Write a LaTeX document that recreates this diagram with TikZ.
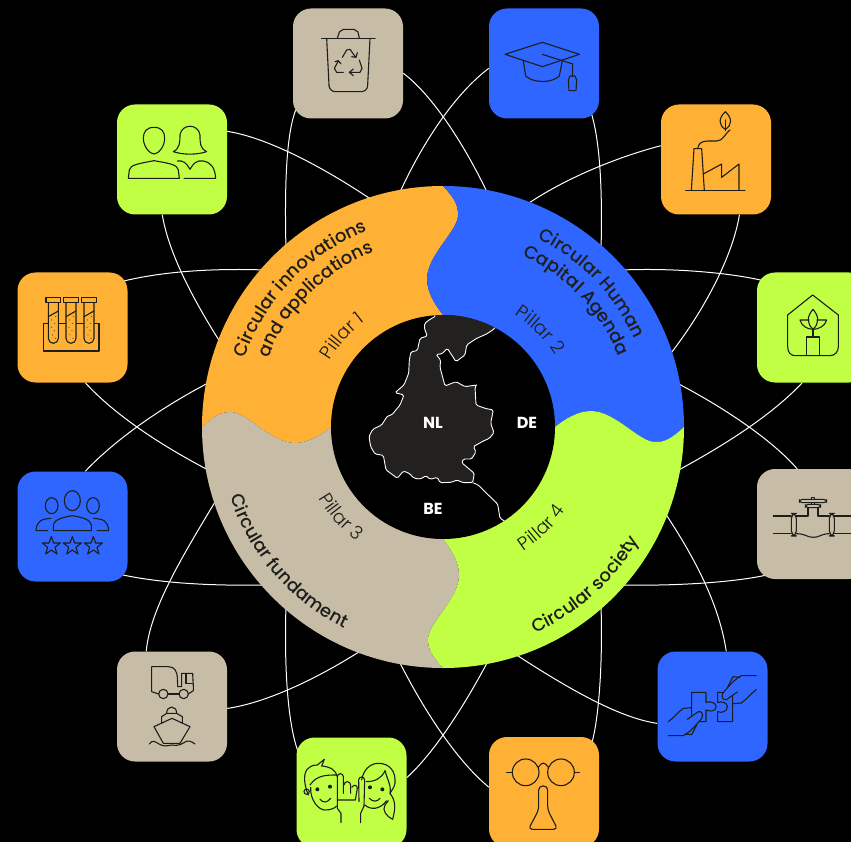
\documentclass[tikz,border=0pt]{standalone}
\usepackage{fontspec}
\usetikzlibrary{backgrounds,decorations.text}
\setmainfont{Poppins}
\newfontfamily\bandfamily{Poppins Medium}
\newfontfamily\pillarfamily{Poppins Light}
\newcommand{\bandfont}{\bandfamily\fontsize{18}{20}\selectfont}
\newcommand{\pillarfont}{\pillarfamily\fontsize{18.5}{20}\selectfont}
\definecolor{sunset}{HTML}{FFB135}
\definecolor{cobalt}{HTML}{2E66FF}
\definecolor{lime}{HTML}{C1FF45}
\definecolor{sand}{HTML}{C7BDA7}
\definecolor{ink}{HTML}{1D1D1B}
\definecolor{land}{HTML}{222120}
\tikzset{
  tile/.style={minimum size=110pt,inner sep=0pt,rounded corners=18pt},
  link/.style={white,line width=1pt},
  icon/.style={ink,line width=1.1pt,line join=round,line cap=round},
  bandtext/.style={decorate,decoration={text along path,text={|\bandfont|#1},text align=center,text color=ink}},
  pillartext/.style={decorate,decoration={text along path,text={|\pillarfont|#1},text align=center,text color=ink}},
  countrytext/.style={white,font=\fontsize{16}{18}\selectfont\bfseries,inner sep=0pt}
}
\begin{document}
\begin{tikzpicture}[x=1pt,y=-1pt]
  \clip (0,0) rectangle (851,842);
  \foreach \name/\x/\y/\tint in {bin/348/63.5/sand,cap/544/63.5/cobalt,people/172/159.5/lime,factory/716/159.5/sunset,
    tubes/72.5/327.5/sunset,house/812/327.5/lime,crowd/72.5/526.5/cobalt,valve/812/524/sand,
    truck/172/706.5/sand,puzzle/712.5/706.5/cobalt,kids/351.5/792.5/lime,flask/544/792/sunset}
    \node[tile,fill=\tint] (\name) at (\x,\y) {};
  \foreach \name/\x/\y in {binr/487/192,capl/400/192,binb/286/250,capb/601/250,peopler/372/200,peopleb/222/345,
    factoryl/526/205,factoryb/668/357,tubesr/265/270,tubesb/212/472,housel/622/270,houseb/675/472,
    crowdt/210/382,crowdr/265/585,valvet/675/382,valvel/622/585,truckt/218/497,truckr/362/650,
    puzzlet/663/510,puzzlel/512/652,kidst/286/605,kidsr/487/663,flaskl/400/663,flaskt/601/605}
    \coordinate (\name) at (\x,\y);
  \begin{scope}[on background layer]
    \fill[black] (0,0) rectangle (851,842);
    \draw[link] (bin.-10) .. controls (430,93) and (462,140) .. (binr);
    \draw[link] (cap.185) .. controls (456,93) and (424,140) .. (capl);
    \draw[link] ([shift={(3,-9)}]bin.south west) .. controls (288,130) and (284,170) .. (binb);
    \draw[link] ([shift={(-8,-6)}]cap.south east) .. controls (598,135) and (603,175) .. (capb);
    \draw[link] (people.27) .. controls (265,137) and (320,165) .. (peopler);
    \draw[link] (people.-100) .. controls (168,250) and (190,295) .. (peopleb);
    \draw[link] (factory.166) .. controls (625,155) and (570,175) .. (factoryl);
    \draw[link] (factory.-67) .. controls (733,255) and (705,310) .. (factoryb);
    \draw[link] ([shift={(-5,9)}]tubes.north east) .. controls (160,272) and (210,268) .. (tubesr);
    \draw[link] (tubes.-77) .. controls (115,415) and (160,445) .. (tubesb);
    \draw[link] ([shift={(5,8)}]house.north west) .. controls (725,272) and (670,268) .. (housel);
    \draw[link] (house.-100) .. controls (772,415) and (725,445) .. (houseb);
    \draw[link] (crowd.77) .. controls (115,440) and (160,408) .. (crowdt);
    \draw[link] ([shift={(-6,-7)}]crowd.south east) .. controls (160,583) and (210,586) .. (crowdr);
    \draw[link] (valve.105) .. controls (772,440) and (725,408) .. (valvet);
    \draw[link] ([shift={(9,-4)}]valve.south west) .. controls (730,583) and (670,586) .. (valvel);
    \draw[link] (truck.115) .. controls (150,610) and (180,560) .. (truckt);
    \draw[link] (truck.-2) .. controls (265,703) and (315,680) .. (truckr);
    \draw[link] (puzzle.76) .. controls (720,610) and (700,565) .. (puzzlet);
    \draw[link] (puzzle.197) .. controls (620,718) and (570,690) .. (puzzlel);
    \draw[link] ([shift={(2,15)}]kids.north west) .. controls (288,725) and (284,670) .. (kidst);
    \draw[link] (kids.15) .. controls (432,755) and (462,710) .. (kidsr);
    \draw[link] (flask.175) .. controls (456,760) and (424,710) .. (flaskl);
    \draw[link] ([shift={(-7,5)}]flask.north east) .. controls (598,720) and (603,670) .. (flaskt);
  \end{scope}

  \begin{scope}[shift={(443,427)}]
    \foreach \tint/\rot in {sunset/0,cobalt/-90,lime/180,sand/90}
      \fill[\tint,rotate=\rot] (0,-241) .. controls (12,-228) and (15,-222) .. (15,-212)
        .. controls (15,-196) and (-16,-172) .. (-16,-148) .. controls (-16,-135) and (-8,-122) .. (0,-112)
        -- (0,0) -- (-112,0) .. controls (-122,8) and (-135,16) .. (-148,16)
        .. controls (-172,16) and (-196,-15) .. (-212,-15) .. controls (-222,-15) and (-228,-12) .. (-241,0)
        arc (180:270:241) -- cycle;
    \fill[black] (0,0) circle (112);
    \path[bandtext={Circular innovations}] (194:210) arc (194:254:210);
    \path[bandtext={and applications}] (195:188) arc (195:255:188);
    \path[pillartext={Pillar 1}] (205:131) arc (205:239:131);
    \path[bandtext={Circular Human}] (290:211) arc (290:342:211);
    \path[bandtext={Capital Agenda}] (288:189) arc (288:345:189);
    \path[pillartext={Pillar 2}] (298:133) arc (298:332:133);
    \path[bandtext={Circular fundament}] (168:224) arc (168:110:224);
    \path[pillartext={Pillar 3}] (155:143) arc (155:122:143);
    \path[bandtext={Circular society}] (72:226) arc (72:24:226);
    \path[pillartext={Pillar 4}] (62:148) arc (62:29:148);
  \end{scope}

  \begin{scope}
    \clip (443,427) circle (112);
    \begin{scope}[shift={(330,310)},scale=1/3]
      \draw[white,fill=land,line width=0.9pt,rounded corners=1.5pt] (318,18) -- (300,28) -- (284,40) -- (283,55) -- (292,78) -- (270,85)
        -- (262,122) -- (243,125) -- (238,150) -- (236,190) -- (222,225) -- (195,248) -- (222,255) -- (210,285) -- (185,315)
        -- (172,318) -- (155,345) -- (128,358) -- (117,380) -- (122,410) -- (135,432) -- (160,436) -- (168,480) -- (185,492)
        -- (202,505) -- (220,483) -- (238,490) -- (252,505) -- (272,507) -- (288,497) -- (300,508) -- (322,502) -- (330,518)
        -- (365,517) -- (380,510) -- (400,518) -- (428,518) -- (433,490) -- (395,458) -- (400,447) -- (425,447) -- (438,425)
        -- (430,410) -- (460,393) -- (478,385) -- (492,368) -- (482,340) -- (490,300) -- (465,295) -- (438,285) -- (435,230)
        -- (440,225) -- (405,230) -- (378,215) -- (345,228) -- (330,172) -- (332,150) -- (318,133) -- (335,132) -- (352,115)
        -- (378,155) -- (405,135) -- (410,105) -- (440,85) -- (470,72) -- (495,55) -- (530,-30) -- (290,-30) -- cycle;
      \draw[white,line width=0.9pt,rounded corners=1.5pt] (428,518) -- (445,525) -- (475,555) -- (503,582) -- (510,625) -- (527,635);
    \end{scope}
  \end{scope}
  \node[countrytext] (nl) at (433,423) {NL};
  \node[countrytext] (de) at (527,423) {DE};
  \node[countrytext] (be) at (433,509) {BE};

  \begin{scope}[shift={(280,0)},scale=1/3,icon]
    \draw (125,115) -- (285,115);
    \draw (172,115) -- (178,96) -- (190,88) -- (222,88) -- (234,96) -- (238,115);
    \draw[rounded corners=6pt] (140,115) -- (148,275) -- (262,275) -- (270,115);
    \draw (187,172) -- (200,150) -- (210,148) -- (227,172) (215,170) -- (228,172) -- (232,158);
    \draw (238,180) -- (246,205) -- (240,217) -- (210,217) (220,207) -- (208,217) -- (220,227);
    \draw (190,217) -- (170,217) -- (163,205) -- (175,183) (165,185) -- (175,182) -- (183,192);
    \draw (675,163) -- (787,127) -- (898,163) -- (787,200) -- cycle;
    \draw (730,182) -- (737,228) .. controls (760,250) and (815,250) .. (838,228) -- (847,182);
    \draw (787,163) -- (878,192) -- (878,228);
    \draw (870,228) -- (885,228) -- (890,240) -- (888,272) -- (867,272) -- (865,240) -- cycle;
  \end{scope}

  \begin{scope}[shift={(0,90)},scale=1/3,icon]
    \draw (462,112) .. controls (440,112) and (430,125) .. (430,145) .. controls (430,170) and (450,192) .. (462,192)
      .. controls (475,192) and (494,170) .. (494,145) .. controls (494,125) and (485,112) .. cycle;
    \draw (520,185) .. controls (540,175) and (540,155) .. (540,135) .. controls (545,100) and (595,100) .. (600,135)
      .. controls (600,160) and (600,175) .. (620,185) .. controls (590,195) and (550,195) .. cycle;
    \draw (385,265) -- (388,240) .. controls (392,225) and (410,222) .. (462,212) .. controls (520,222) and (530,225) .. (535,240) -- (538,265) -- cycle;
    \draw (532,213) .. controls (550,210) and (560,220) .. (570,238) .. controls (580,220) and (590,210) .. (610,213)
      .. controls (635,218) and (645,235) .. (647,265) -- (552,265);
    \draw (130,700) rectangle (297,783);
    \foreach \x in {160,213,267} {
      \draw[fill=sunset] (\x-15,637) -- (\x-15,745) arc (180:0:15) -- (\x+15,637);
      \draw[fill=sunset] (\x-22,622) rectangle (\x+22,637);
      \draw (\x-15,680) -- (\x+15,663);
      \foreach \dx/\dy in {-5/690,4/700,-6/712,3/722,-3/735,6/745,7/680}
        \fill[ink] (\x+\dx,\dy) circle (1.5);
    }
  \end{scope}

  \begin{scope}[shift={(650,90)},scale=1/3,icon]
    \draw (107,302) -- (285,302);
    \draw (124,302) -- (132,176) -- (155,176) -- (163,302);
    \draw (160,252) -- (215,222) -- (215,262) -- (267,222) -- (267,302);
    \draw (143,176) .. controls (145,160) and (155,153) .. (175,153) -- (200,153) .. controls (220,153) and (225,130) .. (240,120);
    \draw (226,65) .. controls (205,85) and (205,105) .. (226,118) .. controls (247,105) and (247,85) .. cycle;
    \draw (226,90) -- (226,122);
    \draw (488,615) -- (413,675) -- (413,770) .. controls (413,790) and (425,797) .. (435,797) -- (540,797)
      .. controls (555,797) and (565,785) .. (565,770) -- (565,675) -- cycle;
    \draw (469,797) -- (469,741) -- (509,741) -- (509,797);
    \draw (489,658) .. controls (470,680) and (470,700) .. (489,718) .. controls (508,700) and (508,680) .. cycle;
    \draw (450,690) -- (477,690) (450,690) .. controls (455,710) and (475,718) .. (489,718);
    \draw (530,690) -- (501,690) (530,690) .. controls (525,710) and (503,718) .. (489,718);
    \draw (489,718) -- (489,741);
  \end{scope}

  \begin{scope}[shift={(650,460)},scale=1/3,icon]
    \draw (370,168) -- (424,168) (370,221) -- (424,221);
    \draw (439,168) -- (474,168) -- (474,143) (504,143) -- (504,168) -- (538,168);
    \draw (439,221) .. controls (470,222) and (470,232) .. (490,232) .. controls (510,232) and (510,222) .. (538,221);
    \draw (553,168) -- (603,168) (553,221) -- (603,221);
    \draw[rounded corners=5pt] (424,160) rectangle (439,228);
    \draw[rounded corners=5pt] (538,160) rectangle (553,228);
    \draw[rounded corners=3pt] (466,133) rectangle (512,143);
    \draw (484,128) rectangle (494,133);
    \draw[rounded corners=3pt] (448,118) rectangle (530,128);
    \draw (484,112) rectangle (494,118);
    \draw (125,697) -- (168,697) -- (168,727) .. controls (185,722) and (200,730) .. (198,742) .. controls (195,755) and (180,755) .. (168,750) -- (168,785) -- (125,785) -- cycle;
    \draw (203,697) -- (248,697) -- (248,785) -- (203,785) -- (203,755) .. controls (215,760) and (232,755) .. (232,740) .. controls (232,728) and (215,722) .. (203,728) -- cycle;
    \foreach \rr in {0,180} {
      \begin{scope}[rotate around={\rr:(187,737)}]
        \draw[fill=cobalt] (112,778) -- (145,755) .. controls (155,752) and (162,765) .. (155,775) .. controls (135,800) and (115,820) .. (100,827) -- (55,827);
        \draw (55,785) .. controls (70,775) and (85,755) .. (100,745) -- (125,743);
        \draw (105,822) -- (125,824) -- (140,795);
      \end{scope}
    }
  \end{scope}

  \begin{scope}[shift={(0,460)},scale=1/3,icon]
    \draw (217,122) ellipse (24 and 30);
    \draw (155,137) ellipse (19 and 24);
    \draw (279,137) ellipse (19 and 24);
    \draw (160,212) -- (160,195) .. controls (162,180) and (185,172) .. (217,167) .. controls (249,172) and (272,180) .. (274,195) -- (274,212) -- cycle;
    \draw (153,175) .. controls (125,177) and (110,182) .. (108,212) -- (143,212);
    \draw (281,175) .. controls (309,177) and (324,182) .. (326,212) -- (291,212);
    \foreach \x in {154,217,280}
      \draw[shift={(\x,258)}] (0,-28) -- (7,-9) -- (27,-9) -- (11,4) -- (17,24) -- (0,12) -- (-17,24) -- (-11,4) -- (-27,-9) -- (-7,-9) -- cycle;
    \draw (476,702) -- (455,695) -- (455,620) -- (505,620) .. controls (525,620) and (530,635) .. (532,650) -- (533,680) -- (545,680) -- (545,640) -- (578,640) -- (580,680) -- (580,692) -- (565,702);
    \draw (537,702) -- (504,702);
    \draw (490,702) circle (14) (551,702) circle (14);
    \draw (558,642) -- (558,670) -- (578,670);
    \draw (500,760) .. controls (500,735) and (530,735) .. (530,760);
    \draw (485,790) -- (485,770) -- (500,760) -- (530,760) -- (547,770) -- (547,790);
    \draw (462,800) -- (516,775) -- (570,800) -- (540,850) -- (490,850) -- cycle;
    \draw (448,852) .. controls (458,838) and (465,845) .. (477,852) .. controls (490,860) and (500,858) .. (515,855) .. controls (530,858) and (540,855) .. (552,848) .. controls (562,840) and (572,842) .. (585,852);
  \end{scope}

  \begin{scope}[shift={(280,730)},scale=1/3,icon]
    \draw (85,195) .. controls (70,160) and (70,125) .. (85,115) .. controls (95,105) and (105,105) .. (112,105) -- (133,88) -- (125,108) .. controls (150,110) and (168,120) .. (172,140);
    \draw (90,165) .. controls (110,135) and (140,135) .. (170,135);
    \draw (92,172) .. controls (90,210) and (115,240) .. (135,240) .. controls (150,240) and (165,235) .. (170,228);
    \draw (80,185) circle (8);
    \fill[ink] (112,178) circle (6) (150,170) circle (6);
    \draw (120,208) .. controls (130,220) and (142,218) .. (152,205);
    \draw (172,210) -- (172,140) arc (180:360:9) -- (190,190);
    \draw (192,165) arc (180:360:10) -- (212,190);
    \draw (215,172) .. controls (222,162) and (232,165) .. (232,175) -- (226,210) -- (172,210);
    \draw (237,215) -- (236,150) arc (180:360:9) -- (252,228);
    \draw (172,210) -- (172,235) -- (183,250) -- (183,278) (252,228) -- (242,250) -- (242,278);
    \draw (245,150) .. controls (250,120) and (270,100) .. (295,100) .. controls (330,100) and (348,125) .. (345,160) .. controls (342,175) and (335,180) .. (330,190) .. controls (350,215) and (345,240) .. (338,268) .. controls (320,260) and (305,240) .. (315,225) -- (325,212);
    \draw (258,155) .. controls (285,155) and (305,145) .. (315,122) .. controls (320,145) and (335,165) .. (330,190);
    \draw (255,225) .. controls (270,240) and (300,240) .. (320,212);
    \fill[ink] (270,172) circle (6) (307,178) circle (6);
    \draw (268,205) .. controls (278,216) and (292,216) .. (300,205);
    \draw (737,127) circle (40) (843,127) circle (40);
    \draw (775,112) .. controls (785,95) and (795,95) .. (805,112);
    \draw (680,127) -- (697,127) (883,127) -- (898,127);
    \draw[rounded corners=4pt] (776,168) -- (803,168) -- (803,240) -- (833,298) -- (745,298) -- (776,240) -- cycle;
  \end{scope}
\end{tikzpicture}
\end{document}
